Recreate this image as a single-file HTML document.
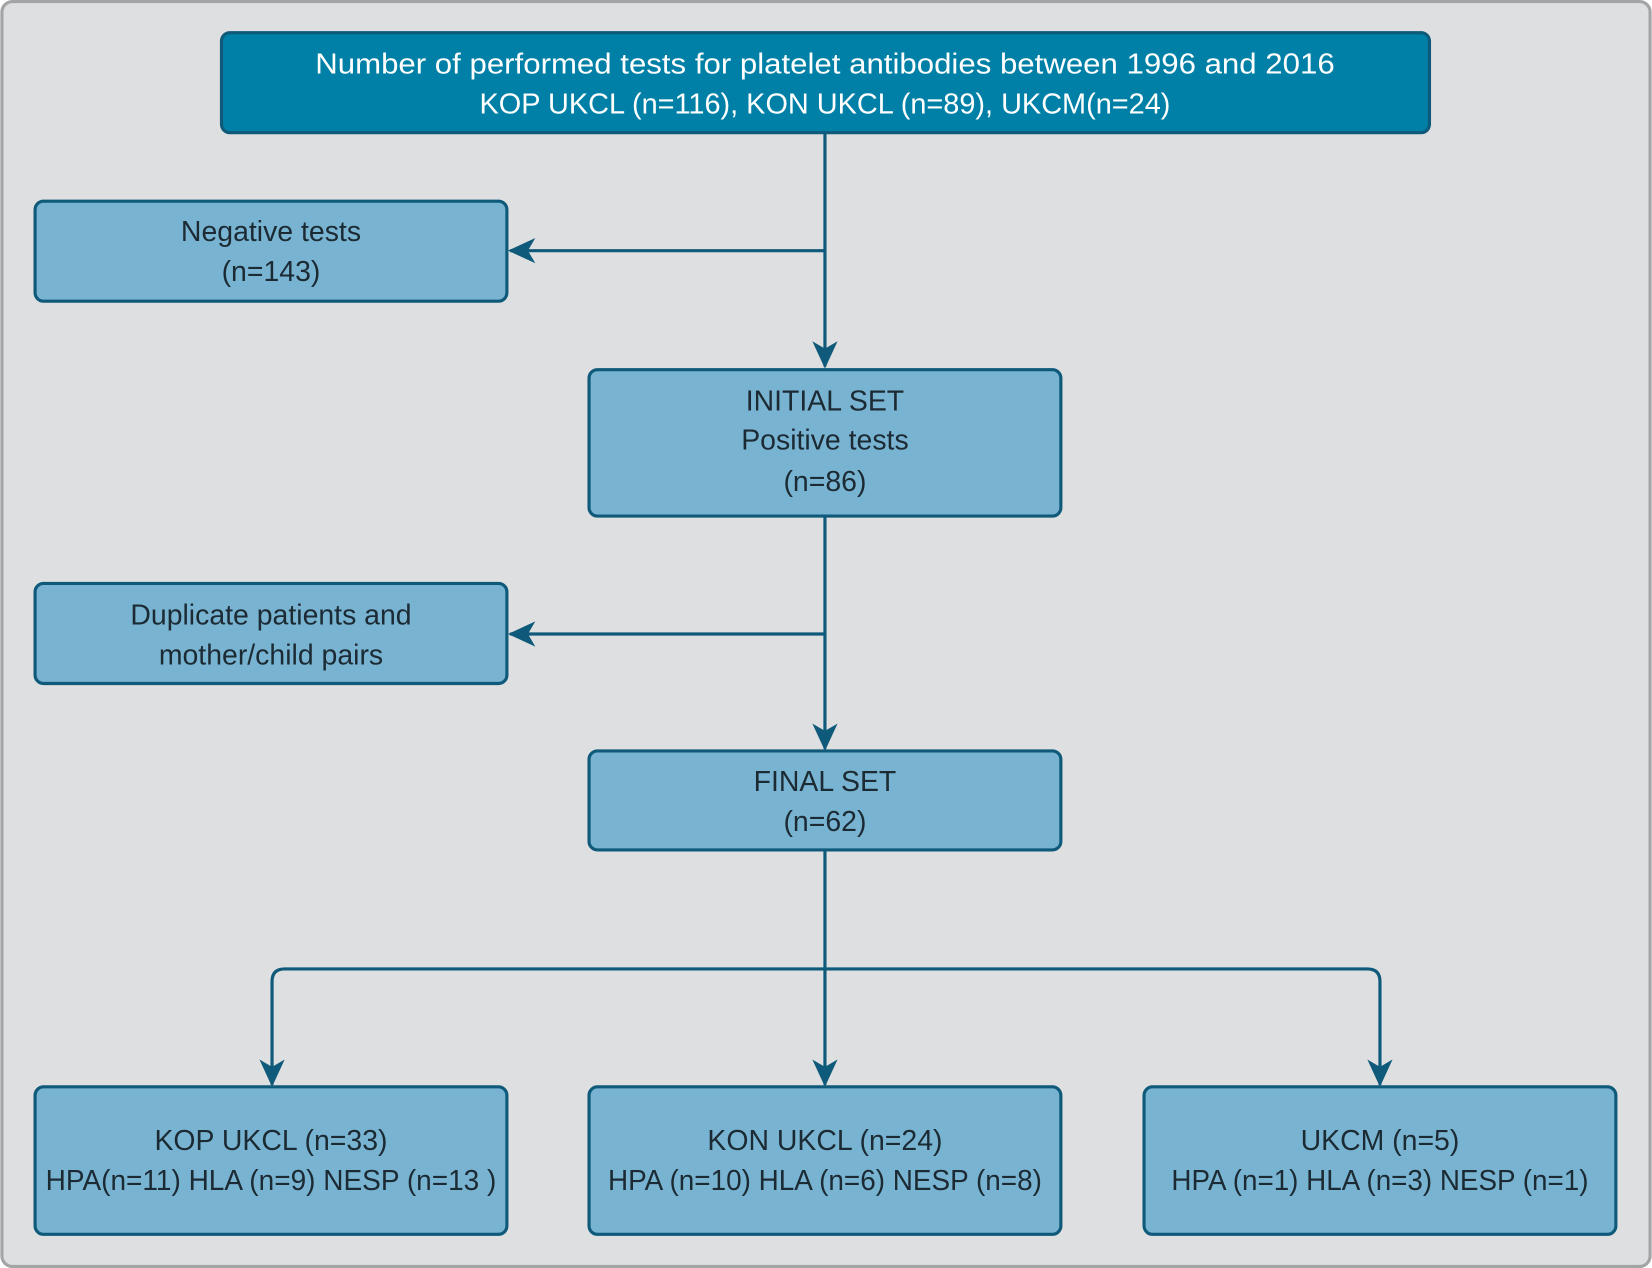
<!DOCTYPE html>
<html><head><meta charset="utf-8"><style>
html,body{margin:0;padding:0;background:#fff;}
svg{display:block;}
text{font-family:"Liberation Sans",sans-serif;font-size:27px;text-anchor:middle;fill:#1c2a33;}
</style></head><body>
<svg width="1652" height="1268" viewBox="0 0 1568 1204" xmlns="http://www.w3.org/2000/svg">
<defs>
<marker id="a" viewBox="0 0 26 24" refX="24" refY="12" markerWidth="26" markerHeight="24" markerUnits="userSpaceOnUse" orient="auto">
<path d="M0,0 L26,12 L0,24 L7,12 Z" fill="#0f5a7a"/>
</marker>
</defs>
<rect x="1.5" y="1.5" width="1565" height="1201" rx="10" fill="#dedfe0" stroke="#a3a4a6" stroke-width="3"/>
<g fill="none" stroke="#0f5a7a" stroke-width="3">
<line x1="783" y1="126" x2="783" y2="348" marker-end="url(#a)"/>
<line x1="783" y1="238" x2="484" y2="238" marker-end="url(#a)"/>
<line x1="783" y1="490" x2="783" y2="711" marker-end="url(#a)"/>
<line x1="783" y1="602" x2="484" y2="602" marker-end="url(#a)"/>
<line x1="783" y1="807" x2="783" y2="1030" marker-end="url(#a)"/>
<path d="M783,920 L270,920 Q258,920 258,932 L258,1030" marker-end="url(#a)"/>
<path d="M783,920 L1298,920 Q1310,920 1310,932 L1310,1030" marker-end="url(#a)"/>
</g>
<g stroke="#0f5a7a" stroke-width="3">
<rect x="210" y="31" width="1147" height="95" rx="8" fill="#0080a6"/>
<rect x="33" y="191" width="448" height="95" rx="8" fill="#78b4d2"/>
<rect x="559" y="351" width="448" height="139" rx="8" fill="#78b4d2"/>
<rect x="33" y="554" width="448" height="95" rx="8" fill="#78b4d2"/>
<rect x="559" y="713" width="448" height="94" rx="8" fill="#78b4d2"/>
<rect x="33" y="1032" width="448" height="140" rx="8" fill="#78b4d2"/>
<rect x="559" y="1032" width="448" height="140" rx="8" fill="#78b4d2"/>
<rect x="1086" y="1032" width="448" height="140" rx="8" fill="#78b4d2"/>
</g>
<text x="783" y="70" style="fill:#fff" textLength="968" lengthAdjust="spacingAndGlyphs">Number of performed tests for platelet antibodies between 1996 and 2016</text>
<text x="783" y="108" style="fill:#fff" textLength="656" lengthAdjust="spacingAndGlyphs">KOP UKCL (n=116), KON UKCL (n=89), UKCM(n=24)</text>
<text x="257" y="229">Negative tests</text>
<text x="257" y="267">(n=143)</text>
<text x="783" y="390">INITIAL SET</text>
<text x="783" y="427">Positive tests</text>
<text x="783" y="466">(n=86)</text>
<text x="257" y="593">Duplicate patients and</text>
<text x="257" y="631">mother/child pairs</text>
<text x="783" y="751">FINAL SET</text>
<text x="783" y="789">(n=62)</text>
<text x="257" y="1092">KOP UKCL (n=33)</text>
<text x="257" y="1130" textLength="428" lengthAdjust="spacingAndGlyphs">HPA(n=11) HLA (n=9) NESP (n=13 )</text>
<text x="783" y="1092">KON UKCL (n=24)</text>
<text x="783" y="1130" textLength="412" lengthAdjust="spacingAndGlyphs">HPA (n=10) HLA (n=6) NESP (n=8)</text>
<text x="1310" y="1092">UKCM (n=5)</text>
<text x="1310" y="1130" textLength="396" lengthAdjust="spacingAndGlyphs">HPA (n=1) HLA (n=3) NESP (n=1)</text>
</svg>
</body></html>
